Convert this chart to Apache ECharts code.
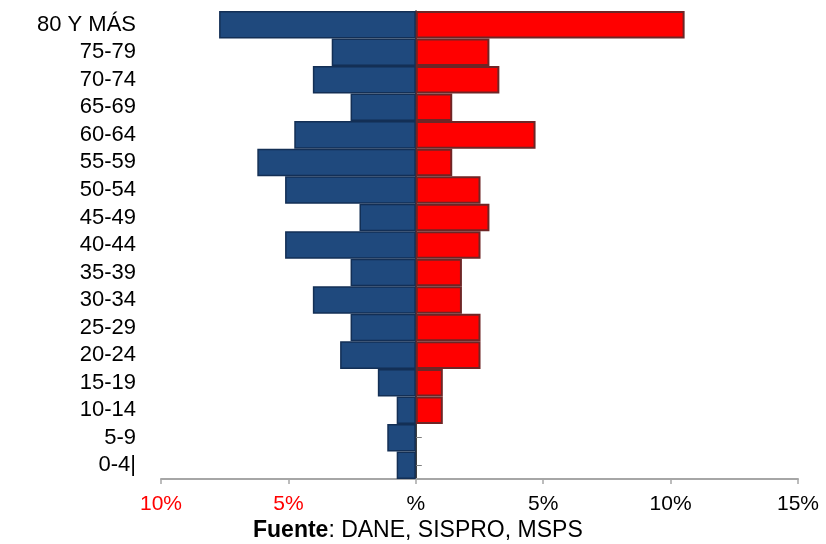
<!DOCTYPE html>
<html>
<head>
<meta charset="utf-8">
<script src="https://cdn.jsdelivr.net/npm/echarts@6/dist/echarts.min.js"></script>
<style>
html,body{margin:0;padding:0;background:#fff;}
#chart{width:826px;height:544px;}
</style>
</head>
<body>
<div id="chart"></div>
<script>
// Age groups, top to bottom
var categories = ['80 Y MÁS','75-79','70-74','65-69','60-64','55-59','50-54','45-49','40-44','35-39','30-34','25-29','20-24','15-19','10-14','5-9','0-4|'];
// Left side (blue), percentage shown to the left of zero
var hombres = [-7.72,-3.30,-4.04,-2.56,-4.77,-6.22,-5.13,-2.21,-5.13,-2.56,-4.04,-2.56,-2.97,-1.49,-0.75,-1.12,-0.75];
// Right side (red)
var mujeres = [10.55,2.89,3.28,1.43,4.70,1.43,2.54,2.89,2.54,1.81,1.81,2.54,2.54,1.06,1.06,0,0];
// X axis tick values and labels
var tickValues = [-10,-5,0,5,10,15];
var tickLabels = ['10%','5%','%','5%','10%','15%'];
var sourceText = 'Fuente';
var sourceRest = ': DANE, SISPRO, MSPS';

function noZero(arr) { return arr.map(function (v) { return v === 0 ? null : v; }); }

var chart = echarts.init(document.getElementById('chart'), null, {renderer:'canvas'});
var FONT = '"Liberation Sans", Arial, sans-serif';

chart.setOption({
  animation: false,
  backgroundColor: '#ffffff',
  title: {
    text: '{b|' + sourceText + '}' + sourceRest,
    left: 253,
    top: 519,
    padding: 0,
    textStyle: {
      fontFamily: FONT,
      fontSize: 23,
      fontWeight: 'normal',
      color: '#000000',
      rich: {
        b: {fontFamily: FONT, fontSize: 23, fontWeight: 'bold', color: '#000000'}
      }
    }
  },
  grid: {left: 161, right: 28, top: 11, bottom: 65, containLabel: false, outerBoundsMode: 'none'},
  xAxis: {
    type: 'value',
    min: tickValues[0],
    max: tickValues[tickValues.length - 1],
    interval: 5,
    splitLine: {show: false},
    axisLine: {show: true, onZero: false, lineStyle: {color: '#a6a6a6', width: 2}},
    axisTick: {show: true, length: 5, lineStyle: {color: '#a6a6a6', width: 1.5}},
    axisLabel: {
      margin: 15,
      fontFamily: FONT,
      fontSize: 21,
      hideOverlap: false,
      formatter: function (v) {
        var i = tickValues.indexOf(v);
        var t = i >= 0 ? tickLabels[i] : '';
        return v < 0 ? '{r|' + t + '}' : '{k|' + t + '}';
      },
      rich: {
        r: {color: '#ff0000', fontFamily: FONT, fontSize: 21},
        k: {color: '#000000', fontFamily: FONT, fontSize: 21}
      }
    }
  },
  yAxis: {
    type: 'category',
    data: categories,
    inverse: true,
    axisLine: {show: true, onZero: true, lineStyle: {color: '#000000', width: 1.5}},
    axisTick: {show: true, inside: true, alignWithLabel: true, interval: 0, length: 6, lineStyle: {color: '#7f7f7f', width: 1}},
    axisLabel: {
      margin: 25,
      interval: 0,
      fontFamily: FONT,
      fontSize: 22,
      color: '#000000',
      align: 'right'
    },
    splitLine: {show: false}
  },
  series: [
    {
      name: 'Hombres',
      type: 'bar',
      stack: 'pir',
      barCategoryGap: '0%',
      data: noZero(hombres),
      itemStyle: {color: '#1f497d', borderColor: '#132f55', borderWidth: 1.5},
      z: 2
    },
    {
      name: 'Mujeres',
      type: 'bar',
      stack: 'pir',
      barCategoryGap: '0%',
      data: noZero(mujeres),
      itemStyle: {color: '#ff0000', borderColor: '#6e2626', borderWidth: 2},
      z: 2
    }
  ]
});
</script>
</body>
</html>
